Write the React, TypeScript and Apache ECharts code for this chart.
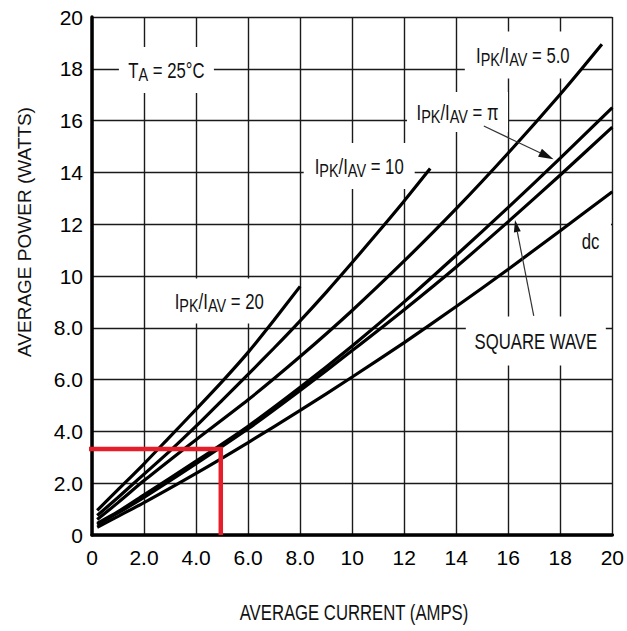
import React, { useEffect, useRef } from "react";
import * as echarts from "echarts";

const SANS = "'Liberation Sans', Arial, Helvetica, sans-serif";

const xTickLabels = ["0", "2.0", "4.0", "6.0", "8.0", "10", "12", "14", "16", "18", "20"];
const yTickLabels = ["0", "2.0", "4.0", "6.0", "8.0", "10", "12", "14", "16", "18", "20"];

const currentR20 = [0.2, 1, 2, 3, 4, 5, 6, 7, 8];
const powerR20 = [0.95, 1.75, 2.75, 3.8, 4.85, 5.92, 7.05, 8.3, 9.6];
const currentR10 = [0.2, 1, 2, 3, 4, 5, 6, 7, 8, 9, 10, 11, 12, 13];
const powerR10 = [0.75, 1.45, 2.35, 3.25, 4.2, 5.2, 6.2, 7.22, 8.27, 9.37, 10.52, 11.7, 12.9, 14.15];
const currentR5 = [0.2, 1, 2, 3, 4, 6, 8, 10, 12, 14, 16, 18, 19.6];
const powerR5 = [0.6, 1.25, 2.1, 2.9, 3.68, 5.22, 6.89, 8.67, 10.58, 12.6, 14.75, 17.02, 18.95];
const currentPi = [0.2, 1, 2, 4, 6, 8, 10, 12, 14, 16, 18, 20];
const powerPi = [0.45, 0.9, 1.55, 2.85, 4.2, 5.7, 7.3, 9.0, 10.8, 12.65, 14.55, 16.5];
const currentSq = [0.2, 1, 2, 4, 6, 8, 10, 12, 14, 16, 18, 20];
const powerSq = [0.4, 0.85, 1.45, 2.75, 4.1, 5.58, 7.12, 8.7, 10.35, 12.1, 13.9, 15.75];
const currentDc = [0.2, 1, 2, 4, 6, 8, 10, 12, 14, 16, 18, 20];
const powerDc = [0.3, 0.72, 1.25, 2.38, 3.57, 4.81, 6.1, 7.43, 8.82, 10.26, 11.75, 13.25];

const redGuideX = [-0.12, 4.95, 4.95];
const redGuideY = [3.32, 3.32, 0];

const curveNames = ["IPK/IAV = 20", "IPK/IAV = 10", "IPK/IAV = 5.0", "IPK/IAV = π", "SQUARE WAVE", "dc"];
const curveCurrents = [currentR20, currentR10, currentR5, currentPi, currentSq, currentDc];
const curvePowers = [powerR20, powerR10, powerR5, powerPi, powerSq, powerDc];

// annotation texts (rich), anchored at data coordinates
const annoTexts = [
  "{n|T}{s|A}{n| = 25°C}",
  "{n|I}{s|PK}{n|/I}{s|AV}{n| = 20}",
  "{n|I}{s|PK}{n|/I}{s|AV}{n| = 10}",
  "{n|I}{s|PK}{n|/I}{s|AV}{n| = π}",
  "{n|I}{s|PK}{n|/I}{s|AV}{n| = 5.0}",
  "{n|dc}",
  "{n|SQUARE WAVE}",
];
const annoX = [2.86, 4.89, 10.27, 14.05, 16.56, 19.16, 17.06];
const annoY = [17.95, 9.03, 14.25, 16.33, 18.53, 11.35, 7.49];
const annoBoxW = [95, 114, 111, 101, 116, 41, 140];
const annoBoxH = [46, 45, 46, 40, 47, 44, 49];

// arrows: tail -> tip in data coordinates
const arrowTailX = [15.06, 16.98];
const arrowTailY = [15.79, 8.46];
const arrowTipX = [17.74, 16.26];
const arrowTipY = [14.51, 12.16];

function arrowHead(tail: number[], tip: number[], len: number, half: number) {
  const dx = tip[0] - tail[0];
  const dy = tip[1] - tail[1];
  const L = Math.hypot(dx, dy) || 1;
  const ux = dx / L;
  const uy = dy / L;
  const bx = tip[0] - ux * len;
  const by = tip[1] - uy * len;
  return {
    base: [bx, by],
    points: [
      [tip[0], tip[1]],
      [bx - uy * half, by + ux * half],
      [bx + uy * half, by - ux * half],
    ],
  };
}

export default function App() {
  const ref = useRef<HTMLDivElement>(null);

  useEffect(() => {
    document.body.style.margin = "0";
    if (!ref.current) return;
    const chart = echarts.init(ref.current, undefined, { renderer: "svg" });

    const series: any[] = curveNames.map((name, i) => ({
      type: "line",
      name,
      data: curveCurrents[i].map((x, j) => [x, curvePowers[i][j]]),
      symbol: "none",
      showSymbol: false,
      smooth: 0.25,
      lineStyle: { color: "#000", width: 3.2 },
      z: 3,
      silent: true,
    }));
    series.push({
      type: "line",
      name: "guide",
      data: redGuideX.map((x, j) => [x, redGuideY[j]]),
      symbol: "none",
      clip: false,
      lineStyle: { color: "#e41e2b", width: 4.5, cap: "butt", join: "miter" },
      z: 6,
      silent: true,
    });

    const option: any = {
      animation: false,
      backgroundColor: "#fff",
      grid: { left: 92, right: 11, top: 17, bottom: 96, containLabel: false },
      xAxis: {
        type: "value",
        min: 0,
        max: 20,
        interval: 2,
        axisLine: { show: true, lineStyle: { color: "#000", width: 3.5 } },
        axisTick: { show: false },
        splitLine: { show: true, lineStyle: { color: "#1a1a1a", width: 1.4 } },
        axisLabel: {
          margin: 12,
          color: "#000",
          fontSize: 21,
          fontFamily: SANS,
          formatter: (v: number) => xTickLabels[Math.round(v / 2)] ?? "",
        },
      },
      yAxis: {
        type: "value",
        min: 0,
        max: 20,
        interval: 2,
        axisLine: { show: true, lineStyle: { color: "#000", width: 3.5 } },
        axisTick: { show: false },
        splitLine: { show: true, lineStyle: { color: "#1a1a1a", width: 1.4 } },
        axisLabel: {
          margin: 9,
          color: "#000",
          fontSize: 21,
          fontFamily: SANS,
          formatter: (v: number) => yTickLabels[Math.round(v / 2)] ?? "",
        },
      },
      series,
    };
    chart.setOption(option);

    const toPx = (p: number[]) => chart.convertToPixel({ gridIndex: 0 } as any, p) as unknown as number[];
    const graphics: any[] = [];

    const rich = {
      n: { fontSize: 22, fontFamily: SANS, fill: "#111", color: "#111" },
      s: { fontSize: 19, fontFamily: SANS, fill: "#111", color: "#111", padding: [10, 0, 0, 0] },
    };

    annoTexts.forEach((t, i) => {
      const c = toPx([annoX[i], annoY[i]]);
      graphics.push({
        type: "rect",
        z: 1,
        silent: true,
        shape: { x: c[0] - annoBoxW[i] / 2, y: c[1] - annoBoxH[i] / 2, width: annoBoxW[i], height: annoBoxH[i] },
        style: { fill: "#fff", stroke: null },
      });
      graphics.push({
        type: "text",
        z: 8,
        silent: true,
        x: c[0],
        y: c[1],
        scaleX: 0.76,
        style: {
          text: t,
          rich,
          align: "center",
          verticalAlign: "middle",
          textAlign: "center",
          textVerticalAlign: "middle",
          fontSize: 22,
          fontFamily: SANS,
          fill: "#111",
        },
      });
    });

    arrowTailX.forEach((_, i) => {
      const tail = toPx([arrowTailX[i], arrowTailY[i]]);
      const tip = toPx([arrowTipX[i], arrowTipY[i]]);
      const head = arrowHead(tail, tip, i === 0 ? 15 : 12, i === 0 ? 4.5 : 3.5);
      graphics.push({
        type: "line",
        z: 7,
        silent: true,
        shape: { x1: tail[0], y1: tail[1], x2: head.base[0], y2: head.base[1] },
        style: { stroke: "#333", lineWidth: 1.2 },
      });
      graphics.push({
        type: "polygon",
        z: 7,
        silent: true,
        shape: { points: head.points },
        style: { fill: "#111", stroke: null },
      });
    });

    graphics.push({
      type: "text",
      z: 8,
      silent: true,
      x: 354,
      y: 612,
      scaleX: 0.76,
      style: {
        text: "AVERAGE CURRENT (AMPS)",
        align: "center",
        verticalAlign: "middle",
        textAlign: "center",
        textVerticalAlign: "middle",
        fontSize: 22,
        fontFamily: SANS,
        fill: "#111",
      },
    });
    graphics.push({
      type: "text",
      z: 8,
      silent: true,
      x: 24,
      y: 232,
      rotation: Math.PI / 2,
      style: {
        text: "AVERAGE POWER (WATTS)",
        align: "center",
        verticalAlign: "middle",
        textAlign: "center",
        textVerticalAlign: "middle",
        fontSize: 19,
        fontFamily: SANS,
        fill: "#111",
      },
    });

    chart.setOption({ graphic: { elements: graphics } });

    return () => {
      chart.dispose();
    };
  }, []);

  return <div ref={ref} style={{ width: 627, height: 631 }} />;
}
